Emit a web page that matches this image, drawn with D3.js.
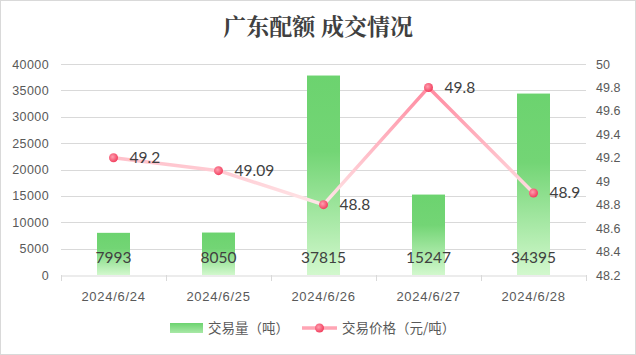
<!DOCTYPE html>
<html><head><meta charset="utf-8">
<script src="https://cdn.jsdelivr.net/npm/d3@7"></script>
<style>body{margin:0;background:#fff}svg{display:block}</style>
</head><body>
<script>
const categories = ["2024/6/24","2024/6/25","2024/6/26","2024/6/27","2024/6/28"];
const volumes = [7993, 8050, 37815, 15247, 34395];
const prices = [49.2, 49.09, 48.8, 49.8, 48.9];
const priceLabels = ["49.2","49.09","48.8","49.8","48.9"];
const leftTicks = [0,5000,10000,15000,20000,25000,30000,35000,40000];
const rightTicks = [48.2,48.4,48.6,48.8,49,49.2,49.4,49.6,49.8,50];
const title = "广东配额 成交情况";
const legendNames = ["交易量（吨）","交易价格（元/吨）"];

const W=636,H=355;
const svg=d3.select("body").append("svg").attr("width",W).attr("height",H);
const defs=svg.append("defs");
const bg=defs.append("linearGradient").attr("id","barG").attr("x1",0).attr("y1",0).attr("x2",0).attr("y2",1);
bg.append("stop").attr("offset","0").attr("stop-color","#6cd36f");
bg.append("stop").attr("offset","0.38").attr("stop-color","#73d575");
bg.append("stop").attr("offset","1").attr("stop-color","#d2f8cd");
const lg=defs.append("linearGradient").attr("id","legG").attr("x1",0).attr("y1",0).attr("x2",0).attr("y2",1);
lg.append("stop").attr("offset","0").attr("stop-color","#6cd36f");
lg.append("stop").attr("offset","1").attr("stop-color","#a8e8a6");
const mg=defs.append("radialGradient").attr("id","mkG").attr("cx","0.4").attr("cy","0.4").attr("r","0.6");
mg.append("stop").attr("offset","0").attr("stop-color","#ff9fb0");
mg.append("stop").attr("offset","1").attr("stop-color","#f2405f");

svg.append("rect").attr("x",0.5).attr("y",0.5).attr("width",W-1).attr("height",H-1)
  .attr("fill","#fff").attr("stroke","#d9d9d9");

const x0=61,x1=586,yTop=64,yBot=275;
const x=d3.scaleBand().domain(categories).range([x0,x1]).paddingInner(0).paddingOuter(0);
const yL=d3.scaleLinear().domain([0,40000]).range([yBot,yTop]);
const yR=d3.scaleLinear().domain([48.2,50]).range([yBot,yTop]);

const pg=defs.append("linearGradient").attr("id","lineG").attr("gradientUnits","userSpaceOnUse")
  .attr("x1",0).attr("x2",0).attr("y1",yR(49.8)).attr("y2",yR(48.8));
pg.append("stop").attr("offset","0").attr("stop-color","#ff8aa0");
pg.append("stop").attr("offset","1").attr("stop-color","#ffe6e8");

svg.append("g").selectAll("line").data(leftTicks.slice(1)).join("line")
  .attr("x1",x0).attr("x2",x1).attr("y1",d=>Math.round(yL(d))+0.5).attr("y2",d=>Math.round(yL(d))+0.5)
  .attr("stroke","#d9d9d9").attr("stroke-width",1);

const ga=svg.append("g").attr("transform",`translate(${x0},0)`)
  .call(d3.axisLeft(yL).tickValues(leftTicks).tickSize(0).tickPadding(12).tickFormat(d3.format("d")));
ga.select(".domain").remove();
ga.selectAll("text").attr("font-family","Liberation Sans, Arial").attr("font-size",12.5).attr("fill","#595959").attr("letter-spacing","0.4");

const gr=svg.append("g").attr("transform",`translate(${x1},0)`)
  .call(d3.axisRight(yR).tickValues(rightTicks).tickSize(0).tickPadding(10).tickFormat(d=>String(+d.toFixed(1))));
gr.select(".domain").remove();
gr.selectAll("text").attr("font-family","Liberation Sans, Arial").attr("font-size",12.5).attr("fill","#595959");

const bw=33;
svg.append("g").selectAll("rect").data(volumes).join("rect")
  .attr("x",(d,i)=>x(categories[i])+x.bandwidth()/2-bw/2).attr("width",bw)
  .attr("y",d=>yL(d)).attr("height",d=>yBot-yL(d)).attr("fill","url(#barG)");

const gx=svg.append("g").attr("transform",`translate(0,${yBot+0.5})`)
  .call(d3.axisBottom(x).tickSize(0).tickPadding(16));
gx.select(".domain").attr("stroke","#d9d9d9");
gx.selectAll("text").attr("font-family","Liberation Sans, Arial").attr("font-size",13).attr("fill","#595959").attr("letter-spacing","0.7");
svg.append("g").selectAll("line").data(d3.range(categories.length+1)).join("line")
  .attr("x1",i=>Math.round(x0+i*x.bandwidth())+0.5).attr("x2",i=>Math.round(x0+i*x.bandwidth())+0.5)
  .attr("y1",yBot).attr("y2",yBot+6).attr("stroke","#d9d9d9");

svg.append("g").selectAll("text").data(volumes).join("text")
  .attr("x",(d,i)=>x(categories[i])+x.bandwidth()/2).attr("y",263)
  .attr("text-anchor","middle").attr("font-family","Lato, Liberation Sans").attr("font-size",15.5)
  .attr("fill","#404040").text(d=>d);

const cx=(d,i)=>x(categories[i])+x.bandwidth()/2;
const line=d3.line().x((d,i)=>cx(d,i)).y(d=>yR(d));
svg.append("path").datum(prices).attr("d",line).attr("fill","none")
  .attr("stroke","url(#lineG)").attr("stroke-width",3.5).attr("stroke-linejoin","round");
svg.append("g").selectAll("circle").data(prices).join("circle")
  .attr("cx",cx).attr("cy",d=>yR(d)).attr("r",4.5).attr("fill","url(#mkG)");
svg.append("g").selectAll("text").data(prices).join("text")
  .attr("x",(d,i)=>cx(d,i)+16).attr("y",d=>yR(d)+5.5)
  .attr("font-family","Lato, Liberation Sans").attr("font-size",15.5).attr("fill","#404040")
  .text((d,i)=>priceLabels[i]);

svg.append("text").attr("x",318).attr("y",35).attr("text-anchor","middle")
  .attr("font-family","Noto Serif CJK SC, Noto Sans CJK SC").attr("font-weight",700).attr("font-size",23)
  .attr("fill","#404040").text(title);

const ly=328;
svg.append("rect").attr("x",170).attr("y",ly-5).attr("width",33).attr("height",10).attr("fill","url(#legG)");
svg.append("text").attr("x",208).attr("y",ly+5).attr("font-family","Noto Sans CJK SC").attr("font-size",13.5)
  .attr("fill","#595959").text(legendNames[0]);
svg.append("line").attr("x1",302).attr("x2",337).attr("y1",ly).attr("y2",ly).attr("stroke","#ffa5b4").attr("stroke-width",3.5);
svg.append("circle").attr("cx",319.5).attr("cy",ly).attr("r",4.5).attr("fill","url(#mkG)");
svg.append("text").attr("x",342).attr("y",ly+5).attr("font-family","Noto Sans CJK SC").attr("font-size",13.5)
  .attr("fill","#595959").text(legendNames[1]);
</script>
</body></html>
